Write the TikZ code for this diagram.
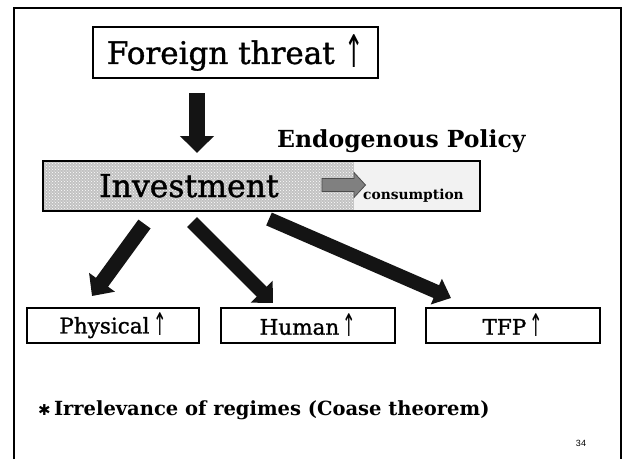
\documentclass[tikz,border=0pt]{standalone}
\usepackage{graphicx}
\usepackage{fontspec}
\setmainfont{DejaVu Serif}[FakeBold=1.2]
\newfontfamily\boldserif{DejaVu Serif Bold}
\newfontfamily\arrowfont{DejaVu Sans}
\newfontfamily\symfont{DejaVu Sans Bold}
\newfontfamily\numfont{Liberation Sans}
\usetikzlibrary{arrows.meta,patterns}
% tall, narrow upward arrow as used after the labels
\newcommand{\uparr}{\raisebox{-0.2ex}{\scalebox{0.75}[1.45]{\arrowfont ↑}}}

\begin{document}
\begin{tikzpicture}[x=1pt,y=-1pt,
  box/.style={draw=black, line width=2pt, inner sep=0pt},
  fat/.style={line width=15pt, draw=black!92, -{Triangle[width=31pt,length=17pt]}},
  big/.style={font=\fontsize{31}{31}\selectfont},
  mid/.style={font=\fontsize{21.5}{21.5}\selectfont},
]
\useasboundingbox (0,0) rectangle (622,459);
\fill[white] (0,0) rectangle (622,459);

% slide frame
\draw[line width=2pt] (13.5,459) -- (13.5,8) -- (621,8) -- (621,459);

% top box
\node[box, big, minimum width=285pt, minimum height=51pt] (threat) at (235.5,52.5) {Foreign threat \uparr};

% investment bar with its two shaded parts
\path[fill=black!24] (43,161) rectangle (354,211);
\path[pattern=crosshatch dots, pattern color=white] (43,161) rectangle (354,211);
\path[fill=black!5] (354,161) rectangle (480,211);
\node[box, line width=2.5pt, minimum width=437pt, minimum height=50pt] (invest) at (261.5,186) {};
\node[font=\fontsize{31.5}{31.5}\selectfont, anchor=base west, inner sep=0pt] (invtext) at (99,197) {Investment};
\node[font=\boldserif\fontsize{13.8}{13.8}\selectfont, anchor=base west, inner sep=0pt] (cons) at (363,199) {consumption};
\draw[fill=black!50, draw=black!70, line width=0.8pt]
  (322,178.5) -- (354,178.5) -- (354,172.5) -- (365.5,185) -- (354,197.5) -- (354,191.5) -- (322,191.5) -- cycle;

\node[font=\boldserif\fontsize{23.5}{23.5}\selectfont, anchor=base west, inner sep=0pt] (endo) at (277,147) {Endogenous Policy};

% outcome boxes
\node[box, mid, minimum width=172pt, minimum height=35pt] (phys) at (113,325.5) {Physical\,\uparr};
\node[box, mid, minimum width=174pt, minimum height=35pt] (human) at (308,325.5) {Human\,\uparr};
\node[box, mid, minimum width=174pt, minimum height=35pt] (tfp) at (513,325.5) {TFP\,\uparr};

% arrow ends
\coordinate (d0) at (197,93);   \coordinate (d1) at (197,153);
\coordinate (a0) at (144.5,224); \coordinate (a1) at (92,296);
\coordinate (b0) at (192,222);  \coordinate (b1) at (273,303);
\coordinate (c0) at (269,219);  \coordinate (c1) at (451,298);

\draw[fat, line width=16pt, -{Triangle[width=33pt,length=17pt]}] (d0) -- (d1);
\draw[fat] (a0) -- (a1);
\draw[fat, line width=14pt, -{Triangle[width=30pt,length=16pt]}] (b0) -- (b1);
\draw[fat, line width=14pt, -{Triangle[width=27pt,length=16pt]}] (c0) -- (c1);

% note
\node[font=\boldserif\fontsize{19.5}{19.5}\selectfont, anchor=base west, inner sep=0pt] (note) at (38,415)
  {{\symfont\fontsize{15}{15}\selectfont ✱}\,Irrelevance of regimes (Coase theorem)};

\node[font=\numfont\fontsize{9}{9}\selectfont, inner sep=0pt] (page) at (581,443) {34};
\end{tikzpicture}
\end{document}
